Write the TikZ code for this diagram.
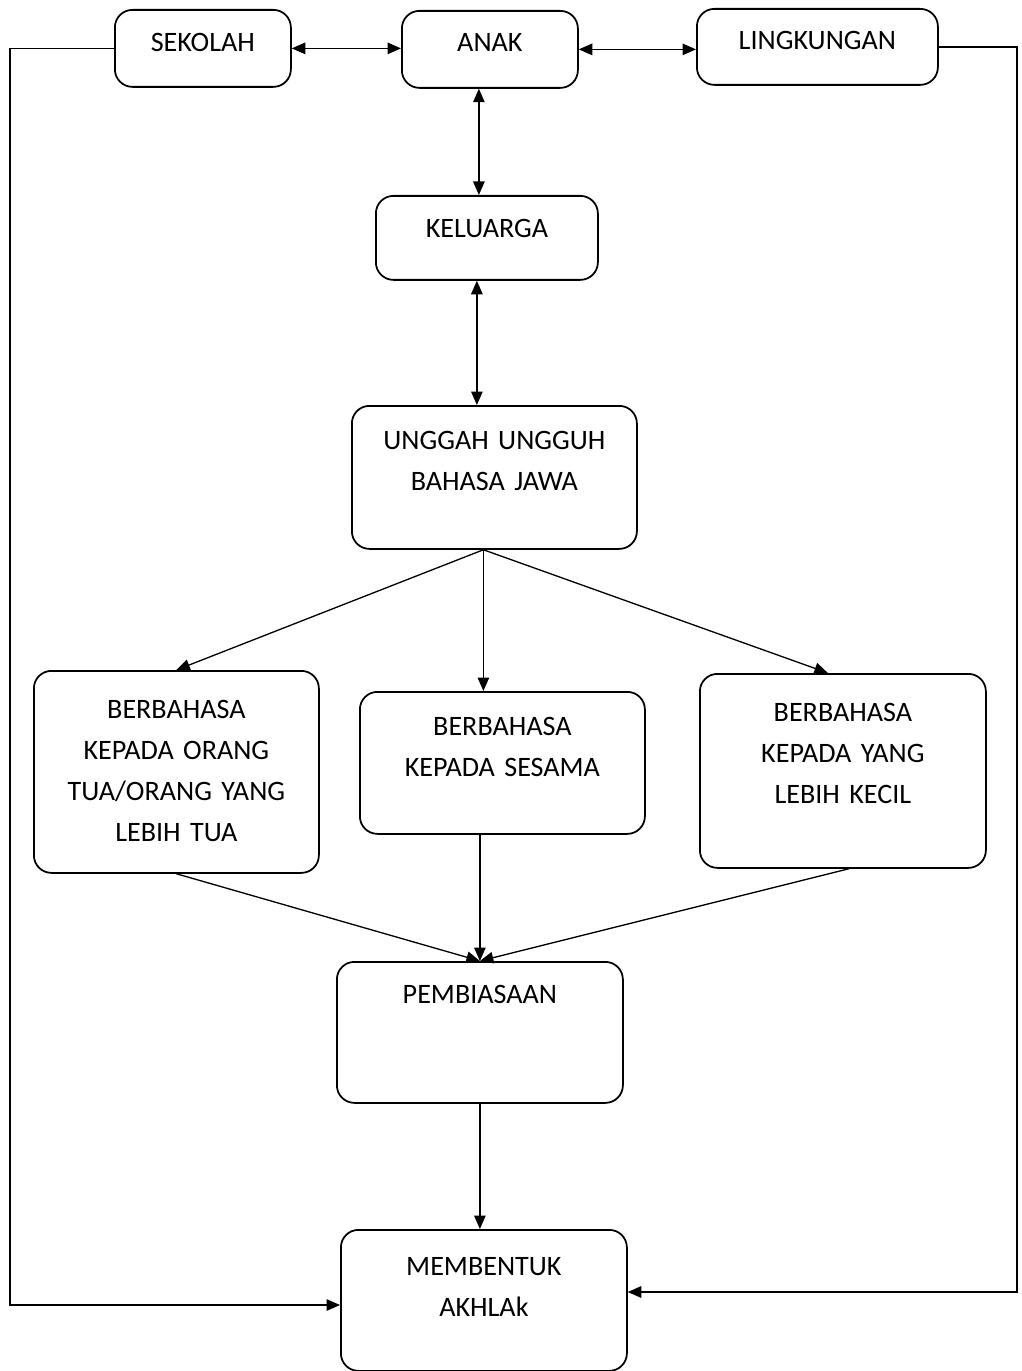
\documentclass[tikz,border=0pt]{standalone}
\usepackage{fontspec}
\setmainfont{Carlito}
\usetikzlibrary{arrows.meta}
\newdimen\pxu \pxu=0.02cm
\begin{document}
\begin{tikzpicture}[x=0.02cm, y=-0.02cm,
  >={Triangle[length=0.27cm, width=0.23cm]},
  box/.style n args={3}{draw, line width=1pt, rounded corners=10pt, align=center,
    inner xsep=0pt, inner ysep=0pt, anchor=north west,
    font=\fontsize{16}{23.3}\selectfont,
    text width=#1\pxu, text height=#2\pxu, text depth=#3\pxu},
  link/.style={line width=0.75pt}]
\useasboundingbox (0,0) rectangle (1021,1371);

\node[box={176}{42}{35}] (sekolah) at (114,9) {SEKOLAH};
\node[box={176}{41}{36}] (anak) at (401,10) {ANAK};
\node[box={241}{41}{35}] (lingkungan) at (696,8) {LINGKUNGAN};

\node[box={222}{42}{42}] (keluarga) at (375,195) {KELUARGA};
\node[box={285}{44}{99}] (unggah) at (351,405) {UNGGAH UNGGUH\\BAHASA JAWA};

\node[box={285}{48}{154}] (tua) at (33,670) {BERBAHASA\\KEPADA ORANG\\TUA/ORANG YANG\\LEBIH TUA};
\node[box={285}{44}{98}] (sesama) at (359,691) {BERBAHASA\\KEPADA SESAMA};
\node[box={286}{48}{146}] (kecil) at (699,673) {BERBAHASA\\KEPADA YANG\\LEBIH KECIL};

\node[box={286}{42}{99}] (pembiasaan) at (336,961) {PEMBIASAAN};
\node[box={286}{46}{95}] (akhlak) at (340,1229) {MEMBENTUK\\AKHLAk};

% top row
\draw[link, <->] (sekolah.east) -- (sekolah.east -| anak.west);
\draw[link, <->] (anak.east) -- (anak.east -| lingkungan.west);
\draw[link, <->] ([xshift=-11\pxu]anak.south) -- ([xshift=-11\pxu]anak.south |- keluarga.north);
\draw[link, <->] ([xshift=-10\pxu]keluarga.south) -- ([xshift=-10\pxu]keluarga.south |- unggah.north);

% split
\coordinate (split) at ([xshift=-11\pxu]unggah.south);
\draw[link, ->] (split) -- (tua.north);
\draw[link, ->] (split) -- (split |- sesama.north);
\draw[link, ->] (split) -- ([xshift=-15\pxu]kecil.north);

% join
\draw[link, ->] (tua.south) -- (pembiasaan.north);
\draw[link, ->] (pembiasaan.north |- sesama.south) -- (pembiasaan.north);
\draw[link, ->] ([xshift=6\pxu]kecil.south) -- (pembiasaan.north);
\draw[link, ->] (pembiasaan.south) -- (pembiasaan.south |- akhlak.north);

% side loops
\coordinate (lturn) at (10,1305);
\coordinate (rturn) at (1017,1292);
\draw[link, ->] (sekolah.west) -| (lturn) -- (lturn -| akhlak.west);
\draw[link, ->] (lingkungan.east) -| (rturn) -- (rturn -| akhlak.east);
\end{tikzpicture}
\end{document}
